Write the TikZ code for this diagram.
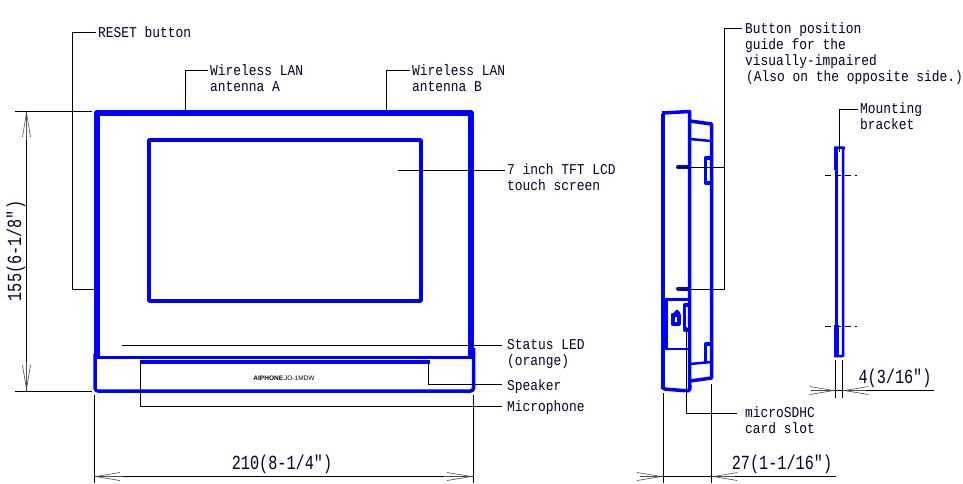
\documentclass[tikz,border=0pt]{standalone}
\usepackage{fontspec}
\usetikzlibrary{arrows.meta}
\newfontfamily\lblfont[FakeStretch=0.86]{Liberation Mono}
\newfontfamily\dimfont[FakeStretch=0.76]{Liberation Mono}
\setmainfont{Liberation Sans}
\tikzset{
    outline/.style={blue, line width=3.5pt, line join=round},
    heavy/.style={blue, line width=6pt, line join=round},
    leader/.style={black, line width=1pt},
    dimline/.style={black, line width=1pt},
    dimtip/.style={-{Straight Barb[length=24pt, width=8pt, line width=0.6pt]}, black!70, line width=1pt},
    lbl/.style={anchor=west, inner sep=0pt, align=left, text=black!85!blue, font=\lblfont\fontsize{15}{16}\selectfont},
    dimlbl/.style={inner sep=0pt, text=black!85!blue, font=\dimfont\fontsize{20}{20}\selectfont}
}
\begin{document}
\begin{tikzpicture}[x=1pt, y=-1pt]
    \useasboundingbox (0,0) rectangle (963,483);

    % Front view
    \draw[heavy] (96.5,358) -- (96.5,113) -- (471,113) -- (471,356);
    \draw[outline] (149,140) rectangle (421,301);
    \draw[outline] (97,357.5) -- (472,357.5);
    \draw[outline, line width=4pt] (140,362) -- (430,362);
    \draw[outline, rounded corners=3pt] (95,354) -- (95,391) -- (473.5,391) -- (473.5,348);
    \node[inner sep=0pt, font=\bfseries\fontsize{6.5}{7}\selectfont] (model) at (284,378) {AIPHONE\,\mdseries JO-1MDW};

    % Side view
    \draw[outline, line width=4.5pt] (663,388) -- (663,114);
    \draw[outline] (662,113) -- (689.5,111.5) -- (689.5,305) -- (689.5,390);
    \draw[outline] (690,121) -- (711.5,124) -- (711.5,378) -- (690,381);
    \draw[outline, line width=2.5pt] (690,139) -- (711,141);
    \draw[outline, line width=2.5pt] (690,364) -- (711,362);
    \draw[outline, rounded corners=2pt] (662,387) -- (663,389) -- (689.5,391) -- (690,385);
    \draw[outline, line width=4pt, line cap=round] (678,167) -- (689,167);
    \draw[outline, line width=4pt, line cap=round] (678,288.5) -- (689,288.5);
    \draw[outline] (711,158) -- (705.5,158) -- (705.5,183) -- (711,183);
    \draw[outline] (711,344) -- (705.5,344) -- (705.5,363);
    \draw[outline, line width=2.5pt] (689,299.5) -- (666,299.5);
    \draw[outline, line width=4pt] (666,298) -- (666,350);
    \draw[outline, line width=2.5pt] (666,349) -- (688,349);
    \draw[outline] (689,305) -- (684.5,305) -- (684.5,330) -- (690,330);
    \draw[outline, line width=4pt] (672.5,315) rectangle (678.5,324);
    \draw[outline] (675,314) -- (677,311.5) -- (679,314);

    % Mounting bracket
    \draw[outline, line width=4.5pt] (836,147) -- (836,170);
    \draw[outline] (836.5,170) -- (836.5,325);
    \draw[outline, line width=5pt] (836.5,325) -- (836.5,356);
    \draw[outline, line width=2.5pt] (834,147.5) -- (844,147.5) -- (843,150) -- (843,356) -- (834,356);
    \draw[leader, dash pattern=on 6pt off 4pt] (825,175.5) -- (857,175.5);
    \draw[leader, dash pattern=on 6pt off 4pt] (825,326.5) -- (857,326.5);

    % Labels
    \node[lbl] (reset) at (98,32) {RESET button};
    \node[lbl] (lanA) at (210,78) {Wireless LAN\\antenna A};
    \node[lbl] (lanB) at (412,78) {Wireless LAN\\antenna B};
    \node[lbl] (lcd) at (507,177) {7 inch TFT LCD\\touch screen};
    \node[lbl] (led) at (507,354) {Status LED\\(orange)};
    \node[lbl] (speaker) at (507,387) {Speaker};
    \node[lbl] (mic) at (507,408) {Microphone};
    \node[lbl] (guide) at (745,54) {Button position\\guide for the\\visually-impaired\\\hspace{1pt}(Also on the opposite side.)};
    \node[lbl] (slot) at (745,420) {microSDHC\\card slot};
    \node[lbl] (bracket) at (860,116) {Mounting\\bracket};

    % Leader ends
    \coordinate (resetend) at (96,289.5);
    \coordinate (lanAend) at (185.5,112);
    \coordinate (lanBend) at (386.5,112);
    \coordinate (lcdend) at (398,170);
    \coordinate (ledend) at (122,345);
    \coordinate (speakerend) at (428.5,361);
    \coordinate (micend) at (140.5,361);
    \coordinate (guideup) at (677,167.5);
    \coordinate (guidelo) at (677,289.5);
    \coordinate (slotend) at (686.5,327);
    \coordinate (bracketend) at (839.5,152);

    % Leaders
    \draw[leader] ([xshift=-2pt]reset.west) -- (72.5,32) |- (resetend);
    \draw[leader] ([xshift=-2pt, yshift=8pt]lanA.west) -| (lanAend);
    \draw[leader] ([xshift=-2pt, yshift=8pt]lanB.west) -| (lanBend);
    \draw[leader] ([xshift=-2pt, yshift=7pt]lcd.west) -- (lcdend);
    \draw[leader] ([xshift=-5pt, yshift=9pt]led.west) -- (ledend);
    \draw[leader] ([xshift=-5pt, yshift=3pt]speaker.west) -| (speakerend);
    \draw[leader] ([xshift=-5pt, yshift=2pt]mic.west) -| (micend);
    \draw[leader] ([xshift=-3pt, yshift=26pt]guide.west) -- (724.5,28) |- (guideup);
    \draw[leader] (724.5,167) |- (guidelo);
    \draw[leader] ([xshift=-8pt, yshift=7pt]slot.west) -| (slotend);
    \draw[leader] ([xshift=-2pt, yshift=7pt]bracket.west) -| (bracketend);

    % Height dimension
    \draw[dimline] (15,111.5) -- (92,111.5);
    \draw[dimline] (15,391.5) -- (92,391.5);
    \draw[dimline] (26.5,111) -- (26.5,391);
    \draw[dimtip] (26.5,140) -- (26.5,111);
    \draw[dimtip] (26.5,362) -- (26.5,391);
    \node[dimlbl, rotate=90] (height) at (16,251) {155(6-1/8″)};

    % Width dimension
    \draw[dimline] (94.5,395) -- (94.5,483);
    \draw[dimline] (473.5,395) -- (473.5,483);
    \draw[dimline] (94,476.5) -- (473,476.5);
    \draw[dimtip] (123,476.5) -- (94,476.5);
    \draw[dimtip] (444,476.5) -- (473,476.5);
    \node[dimlbl] (width) at (282,464) {210(8-1/4″)};

    % Depth dimension
    \draw[dimline] (663.5,393) -- (663.5,483);
    \draw[dimline] (711.5,384) -- (711.5,483);
    \draw[dimline] (644,476.5) -- (836,476.5);
    \draw[dimtip] (640,476.5) -- (663,476.5);
    \draw[dimtip] (735,476.5) -- (711.5,476.5);
    \node[dimlbl] (depth) at (782,464) {27(1-1/16″)};

    % Bracket dimension
    \draw[dimline] (835.5,360) -- (835.5,398);
    \draw[dimline] (842.5,360) -- (842.5,398);
    \draw[dimline] (811,390.5) -- (934,390.5);
    \draw[dimtip] (812,390.5) -- (835.5,390.5);
    \draw[dimtip] (866,390.5) -- (842.5,390.5);
    \node[dimlbl] (thick) at (895,378) {4(3/16″)};
\end{tikzpicture}
\end{document}
